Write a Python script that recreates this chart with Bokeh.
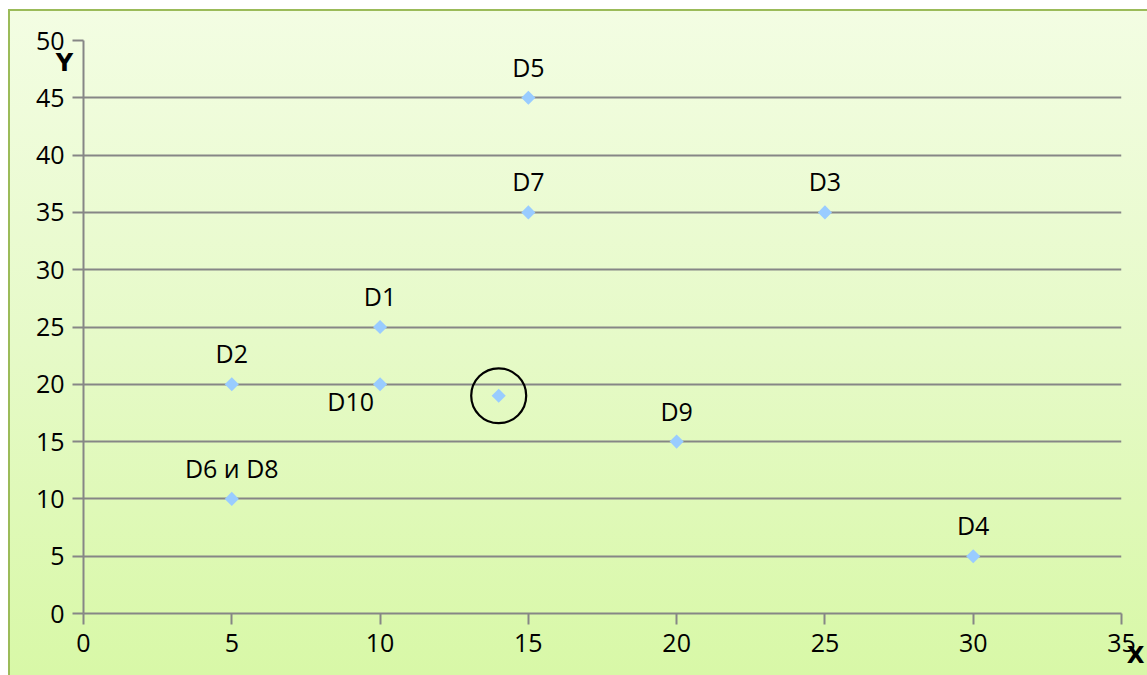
import numpy as np
from bokeh.plotting import figure
from bokeh.models import ColumnDataSource, LabelSet, Label, FixedTicker
from bokeh.core.properties import value
from bokeh.embed import file_html
from bokeh.resources import INLINE

# data
names = ["D1", "D2", "D3", "D4", "D5", "D7", "D9", "D6 и D8"]
xs = [10, 5, 25, 30, 15, 15, 20, 5]
ys = [25, 20, 35, 5, 45, 35, 15, 10]
d10_name = ["D10"]
d10_x = [10]
d10_y = [20]
new_x = [14]
new_y = [19]
x_ticks = [0, 5, 10, 15, 20, 25, 30, 35]
y_ticks = [0, 5, 10, 15, 20, 25, 30, 35, 40, 45, 50]
x_title = "X"
y_title = "Y"

FONT = "Open Sans"
FS = "25px"
GREEN = "#9bbb59"

p = figure(width=1147, height=675, output_backend="svg", toolbar_location=None,
           x_range=(0, 35), y_range=(0, 50),
           min_border_left=83, min_border_right=26, min_border_top=40, min_border_bottom=62)
p.background_fill_color = None
p.border_fill_color = None
p.outline_line_color = None
p.styles = {"background":
            f"linear-gradient({GREEN},{GREEN}) 8px 9px / 2px 100% no-repeat, "
            f"linear-gradient({GREEN},{GREEN}) 8px 9px / 100% 2px no-repeat, "
            "linear-gradient(to bottom, #f3fde3 0%, #e6fac8 50%, #d8f8a7 100%) 8px 9px / 100% calc(100% - 9px) no-repeat, "
            "white"}

p.xgrid.visible = False
p.ygrid.grid_line_color = "#868686"
p.ygrid.grid_line_width = 2
p.ygrid.ticker = FixedTicker(ticks=y_ticks)

for ax, ticks in ((p.xaxis, x_ticks), (p.yaxis, y_ticks)):
    ax.ticker = FixedTicker(ticks=ticks)
    ax.axis_line_color = "#868686"
    ax.axis_line_width = 2
    ax.major_tick_line_color = "#868686"
    ax.major_tick_line_width = 2
    ax.major_tick_out = 11
    ax.major_tick_in = 0
    ax.minor_tick_line_color = None
    ax.major_label_text_font = FONT
    ax.major_label_text_font_size = FS
    ax.major_label_text_color = "black"
p.xaxis.major_label_standoff = 9
p.yaxis.major_label_standoff = 8

src = ColumnDataSource(dict(x=xs, y=ys, name=names))
src10 = ColumnDataSource(dict(x=d10_x, y=d10_y, name=d10_name))

for s in (src, src10):
    p.scatter("x", "y", source=s, marker="square", angle=np.pi / 4, size=10,
              fill_color="#99ccff", line_color=None)
p.scatter(new_x, new_y, marker="square", angle=np.pi / 4, size=10,
          fill_color="#99ccff", line_color=None)
p.scatter(new_x, new_y, marker="circle", size=55, fill_color=None,
          line_color="black", line_width=2.2)

p.add_layout(LabelSet(x="x", y="y", text="name", source=src, y_offset=31,
                      text_align="center", text_baseline="middle",
                      text_font=value(FONT), text_font_size=value(FS), text_color="black"))
p.add_layout(LabelSet(x="x", y="y", text="name", source=src10, x_offset=-6, y_offset=-17,
                      text_align="right", text_baseline="middle",
                      text_font=value(FONT), text_font_size=value(FS), text_color="black"))

p.add_layout(Label(x=64, y=62, x_units="canvas", y_units="canvas", text=y_title,
                   text_align="center", text_baseline="middle",
                   text_font="DejaVu Sans", text_font_style="bold", text_font_size="24px",
                   text_color="black"), "left")
p.add_layout(Label(x=1135, y=654, x_units="canvas", y_units="canvas", text=x_title,
                   text_align="center", text_baseline="middle",
                   text_font="DejaVu Sans", text_font_style="bold", text_font_size="23px",
                   text_color="black"), "right")

open("out.html", "w").write(file_html(p, INLINE))
